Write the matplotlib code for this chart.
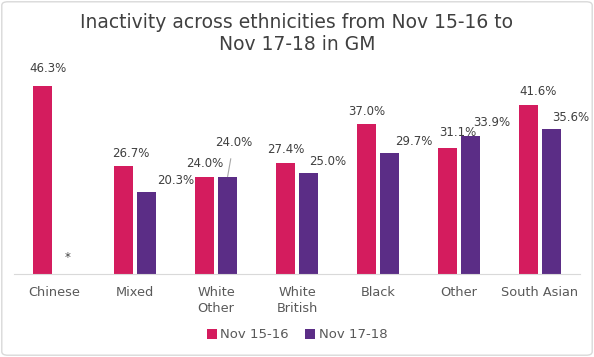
import numpy as np
import matplotlib
matplotlib.use("Agg")
import matplotlib.pyplot as plt
import matplotlib.patches as mpatches

# data
categories = ["Chinese", "Mixed", "White\nOther", "White\nBritish", "Black", "Other", "South Asian"]
nov_15_16 = [46.3, 26.7, 24.0, 27.4, 37.0, 31.1, 41.6]
nov_17_18 = [0.0, 20.3, 24.0, 25.0, 29.7, 33.9, 35.6]
labels_15_16 = ["46.3%", "26.7%", "24.0%", "27.4%", "37.0%", "31.1%", "41.6%"]
labels_17_18 = ["*", "20.3%", "24.0%", "25.0%", "29.7%", "33.9%", "35.6%"]

pink = "#D41C5E"
purple = "#5B2D86"
grey_txt = "#404040"

# label offsets in pixels (dx, dy) from bar top centre
off_15 = [(5, 18), (7, 12), (0, 13), (0, 13), (0, 12), (11, 15), (10, 14)]
off_17 = [(2, 16), (29, 11), (6, 34), (19, 11), (24, 12), (22, 14), (20, 12)]

fig = plt.figure(figsize=(5.94, 3.57), dpi=100)
ax = fig.add_axes([14 / 594, 83 / 357, 566 / 594, 203 / 357])

x = np.arange(len(categories))
w = 0.235
b1 = ax.bar(x - 0.142, nov_15_16, w, color=pink, label="Nov 15-16")
b2 = ax.bar(x + 0.142, nov_17_18, w, color=purple, label="Nov 17-18")

px = 0.72  # pixel -> points
for i in range(len(categories)):
    dx, dy = off_15[i]
    ax.annotate(labels_15_16[i], (x[i] - 0.142, nov_15_16[i]), xytext=(dx * px, dy * px),
                textcoords="offset points", ha="center", va="center", fontsize=8.5, color=grey_txt)
    dx, dy = off_17[i]
    if i == 2:
        ax.annotate(labels_17_18[i], (x[i] + 0.142, nov_17_18[i]), xytext=(dx * px, dy * px),
                    textcoords="offset points", ha="center", va="center", fontsize=8.5, color=grey_txt,
                    arrowprops=dict(arrowstyle="-", color="#A6A6A6", lw=0.8, shrinkA=5, shrinkB=0))
    else:
        ax.annotate(labels_17_18[i], (x[i] + 0.142, nov_17_18[i]), xytext=(dx * px, dy * px),
                    textcoords="offset points", ha="center", va="center", fontsize=8.5, color=grey_txt)

ax.set_xlim(-0.5, len(categories) - 0.5)
ax.set_ylim(0, 50)
ax.set_yticks([])
ax.set_xticks(x)
ax.set_xticklabels(categories, fontsize=9.3, color="#595959")
ax.tick_params(axis="x", length=0, pad=9)
for s in ["top", "right", "left"]:
    ax.spines[s].set_visible(False)
ax.spines["bottom"].set_color("#D9D9D9")

fig.text(0.5, 1 - 13 / 357, "Inactivity across ethnicities from Nov 15-16 to\nNov 17-18 in GM",
         ha="center", va="top", fontsize=13.5, color=grey_txt, linespacing=1.2)

fig.legend(handles=[b1, b2], loc="center", bbox_to_anchor=(0.5, 1 - 335 / 357), ncol=2,
           frameon=False, fontsize=9.5, handlelength=0.75, handleheight=0.75, handletextpad=0.3,
           columnspacing=1.2, labelcolor="#595959")

fig.patches.append(mpatches.FancyBboxPatch((0.003, 0.005), 0.994, 0.99, boxstyle="round,pad=0,rounding_size=0.01",
                                           transform=fig.transFigure, fill=False, edgecolor="#D9D9D9", lw=1))

fig.savefig("out.png", dpi=100)
